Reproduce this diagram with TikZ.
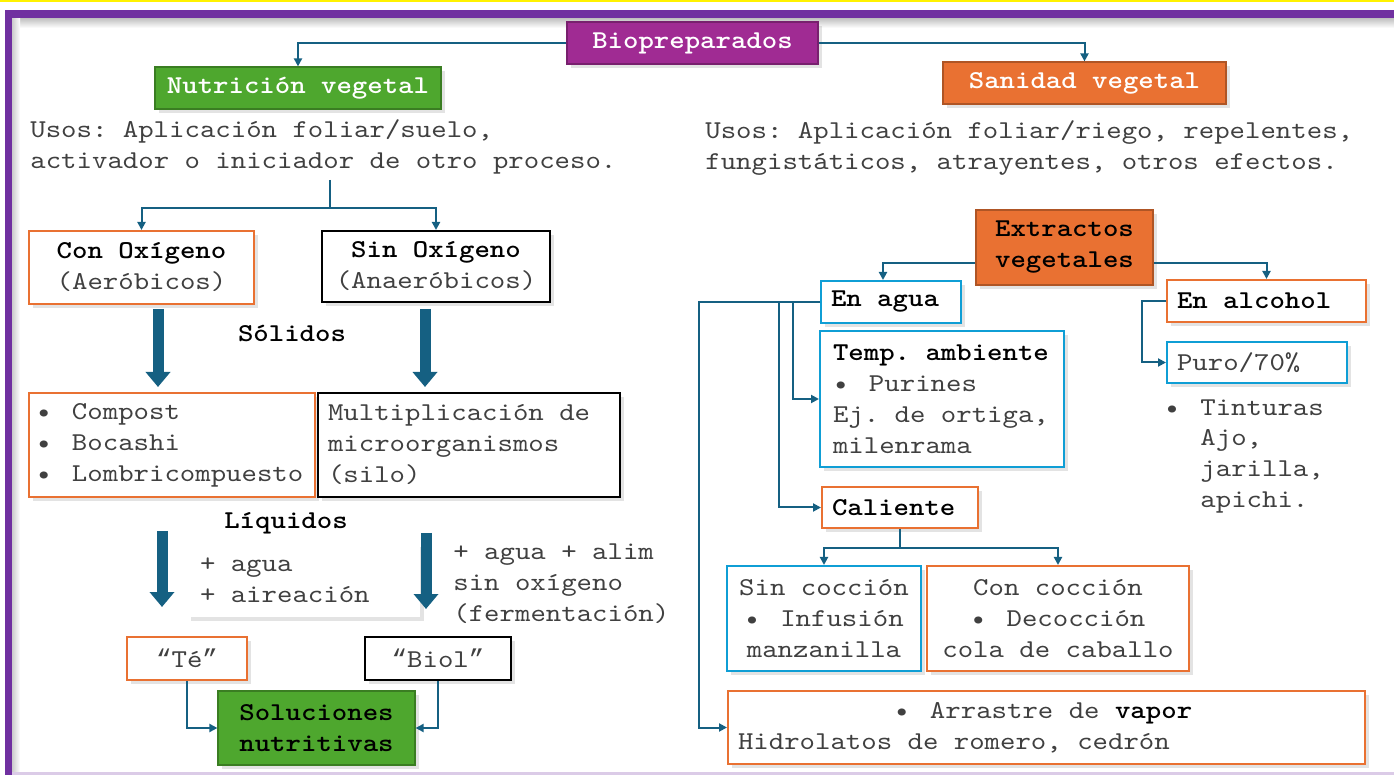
\documentclass[tikz,border=0pt]{standalone}
\usepackage{fontspec}
\setmainfont{lmmono10-regular.otf}[FakeStretch=1.143, WordSpace={1,0,0}, BoldFont=lmmonolt10-bold.otf]
\newfontfamily\comillas{Liberation Mono}
\usepackage{tikz}
\usetikzlibrary{arrows.meta}
\usetikzlibrary{shadows}

\definecolor{marco}{RGB}{112,48,160}
\definecolor{bio}{RGB}{160,43,147}
\definecolor{verde}{RGB}{78,167,46}
\definecolor{naranja}{RGB}{233,113,50}
\definecolor{celeste}{RGB}{15,158,213}
\definecolor{flecha}{RGB}{21,96,130}
\definecolor{texto}{RGB}{64,64,64}

\newcommand{\tit}[1]{\textcolor{black}{\textbf{#1}}}
\newcommand{\punto}{\makebox[18pt][l]{•}}
\newcommand{\cita}[1]{{\comillas “}#1{\comillas ”}}

\tikzset{
  sombra/.style={drop shadow={opacity=0.22,shadow xshift=2pt,shadow yshift=-2pt}},
  caja/.style={draw, line width=1pt, fill=white, sombra, inner xsep=5pt, inner ysep=0pt, text=texto,
    execute at begin node={\spaceskip=0pt\relax\xspaceskip=0pt\relax}},
  solido/.style={draw, line width=0.6pt, sombra, inner sep=0pt, text=white, font=\bfseries},
  libre/.style={inner sep=0pt, align=left, text=texto},
  linea/.style={draw=flecha, line width=1pt},
  link/.style={linea, -{Triangle[width=4pt,length=4pt]}},
  fat/.style={draw=flecha, line width=5.5pt, -{Triangle[width=12pt,length=7.5pt]}}
}

\begin{document}
\fontsize{12.85}{15.5}\selectfont\frenchspacing
\begin{tikzpicture}[x=0.5pt, y=-0.5pt]
\useasboundingbox (0,0) rectangle (1394,775);

\fill [yellow] (0,0) rectangle (1394,2);
\shade [top color=black!25, bottom color=white] (12,18) rectangle (1394,28);
\shade [left color=black!20, right color=white] (12,18) rectangle (20,772);
\fill [marco] (5,10) rectangle (1394,18);
\fill [marco] (5,10) rectangle (12,775);
\fill [marco!25] (12,772) rectangle (1394,775);

\node [solido, fill=bio, draw=bio!75!black, minimum width=125.5pt, minimum height=21pt] (BIO) at (692.5,43) {Biopreparados};
\node [solido, fill=verde, draw=verde!75!black, minimum width=143pt, minimum height=21pt] (NUTR) at (298,88) {Nutrición vegetal};
\node [solido, fill=naranja, draw=naranja!75!black, minimum width=141.5pt, minimum height=21pt] (SAN) at (1084.5,83) {Sanidad vegetal};
\node [libre, anchor=west] (USOSL) at (30,146.5) {Usos: Aplicación foliar/suelo,\\activador o iniciador de otro proceso.};
\node [libre, anchor=west] (USOSR) at (705,148.5) {Usos: Aplicación foliar/riego, repelentes,\\fungistáticos, atrayentes, otros efectos.};

\node [caja, draw=naranja, minimum width=112.5pt, minimum height=36.5pt, align=center] (CON) at (141.5,267.5) {\tit{Con Oxígeno}\\(Aeróbicos)};
\node [caja, draw=black, minimum width=114pt, minimum height=35.5pt, align=center] (SIN) at (436,266.5) {\tit{Sin Oxígeno}\\(Anaeróbicos)};
\node [libre, font=\bfseries, text=black] (SOLI) at (292,333) {Sólidos};
\node [caja, draw=naranja, text width=136pt, inner xsep=3.5pt, minimum height=52pt, align=left] (COMP) at (172,445) {\punto Compost\\\punto Bocashi\\\punto Lombricompuesto};
\node [caja, draw=black, text width=141pt, minimum height=52pt, align=left] (MULT) at (469,445) {Multiplicación de\\microorganismos\\(silo)};
\node [libre, font=\bfseries, text=black] (LIQ) at (286,523) {Líquidos};
\node [caja, draw=none, text width=103.5pt, inner xsep=6.5pt, minimum height=37pt, align=left] (AIRE) at (303.5,580) {+ agua\\+ aireación};
\node [libre, anchor=west] (FERM) at (453,584) {+ agua + alim\\sin oxígeno\\(fermentación)};
\node [caja, draw=naranja, minimum width=60pt, minimum height=21.5pt] (TE) at (187,658.5) {\cita{Té}};
\node [caja, draw=black, minimum width=73pt, minimum height=21.5pt] (BIOL) at (438,658.5) {\cita{Biol}};
\node [solido, fill=verde, draw=verde!75!black, text=black, minimum width=98.5pt, minimum height=37pt, align=center] (SOL) at (316.5,728) {Soluciones\\nutritivas};

\node [solido, fill=naranja, draw=naranja!75!black, text=black, minimum width=88.5pt, minimum height=37.5pt, align=center] (EXT) at (1064.5,247.5) {Extractos\\vegetales};
\node [caja, draw=celeste, text width=60pt, minimum height=21pt, font=\bfseries, text=black, align=left] (AGUA) at (891,302) {En agua};
\node [caja, draw=naranja, text width=89.5pt, minimum height=21pt, font=\bfseries, text=black, align=left] (ALC) at (1266.5,301) {En alcohol};
\node [caja, draw=celeste, text width=109pt, inner xsep=6.5pt, minimum height=68pt, align=left] (TEMP) at (942,399) {\tit{Temp. ambiente}\\\punto Purines\\Ej. de ortiga,\\milenrama};
\node [caja, draw=celeste, text width=80pt, minimum height=20.5pt, align=left] (PURO) at (1257,362.5) {Puro/70\%};
\node [libre, anchor=west] (TINT) at (1164,456.5) {\punto Tinturas\\\hspace*{18pt}Ajo,\\\hspace*{18pt}jarilla,\\\hspace*{18pt}apichi.};
\node [caja, draw=naranja, text width=68pt, minimum height=20.5pt, font=\bfseries, text=black, align=left] (CAL) at (900,507.5) {Caliente};
\node [caja, draw=celeste, minimum width=97pt, minimum height=52.5pt, align=center] (SINC) at (824,618.5) {Sin cocción\\\punto Infusión\\manzanilla};
\node [caja, draw=naranja, minimum width=131pt, minimum height=52.5pt, align=center] (CONC) at (1058,618.5) {Con cocción\\\punto Decocción\\cola de caballo};
\node [caja, draw=naranja, text width=308.5pt, minimum height=36.5pt, align=left] (ARR) at (1046.5,727.5) {\hspace*{78pt}\punto Arrastre de \tit{vapor}\\Hidrolatos de romero, cedrón};

\draw [link] (BIO.west) -| (NUTR.north);
\draw [link] (BIO.east) -| (SAN.north);
\coordinate (USL) at (330,180);
\coordinate (JL) at (330,208);
\draw [linea] (USL) -- (JL);
\draw [link] (JL) -| (CON.north);
\draw [link] (JL) -| (SIN.north);
\draw [fat] ([xshift=8.25pt,yshift=-2pt]CON.south) -- ([xshift=-7pt,yshift=2.5pt]COMP.north);
\draw [fat] ([xshift=-5.5pt,yshift=-3pt]SIN.south) -- ([xshift=-22pt,yshift=2.5pt]MULT.north);
\draw [fat] ([xshift=-5pt,yshift=-16.5pt]COMP.south) -- ([xshift=-12.5pt,yshift=14.5pt]TE.north);
\draw [fat] ([xshift=-21.5pt,yshift=-17.5pt]MULT.south) -- ([xshift=-6pt,yshift=13.5pt]BIOL.north);
\draw [link] (TE.south) |- (SOL.west);
\draw [link] (BIOL.south) |- (SOL.east);

\draw [link] ([yshift=-8pt]EXT.west) -| ([xshift=-4pt]AGUA.north);
\draw [link] ([yshift=-8pt]EXT.east) -| (ALC.north);
\draw [link] (AGUA.west) -- ++(-27,0) |- (TEMP.west);
\draw [link] (AGUA.west) -- ++(-41,0) |- (CAL.west);
\draw [link] (AGUA.west) -- ++(-121,0) |- (ARR.west);
\draw [link] (ALC.west) -- ++(-24,0) |- (PURO.west);
\coordinate (JC) at (900,548);
\draw [linea] (CAL.south) -- (JC);
\draw [link] (JC) -| (SINC.north);
\draw [link] (JC) -| (CONC.north);
\end{tikzpicture}
\end{document}
